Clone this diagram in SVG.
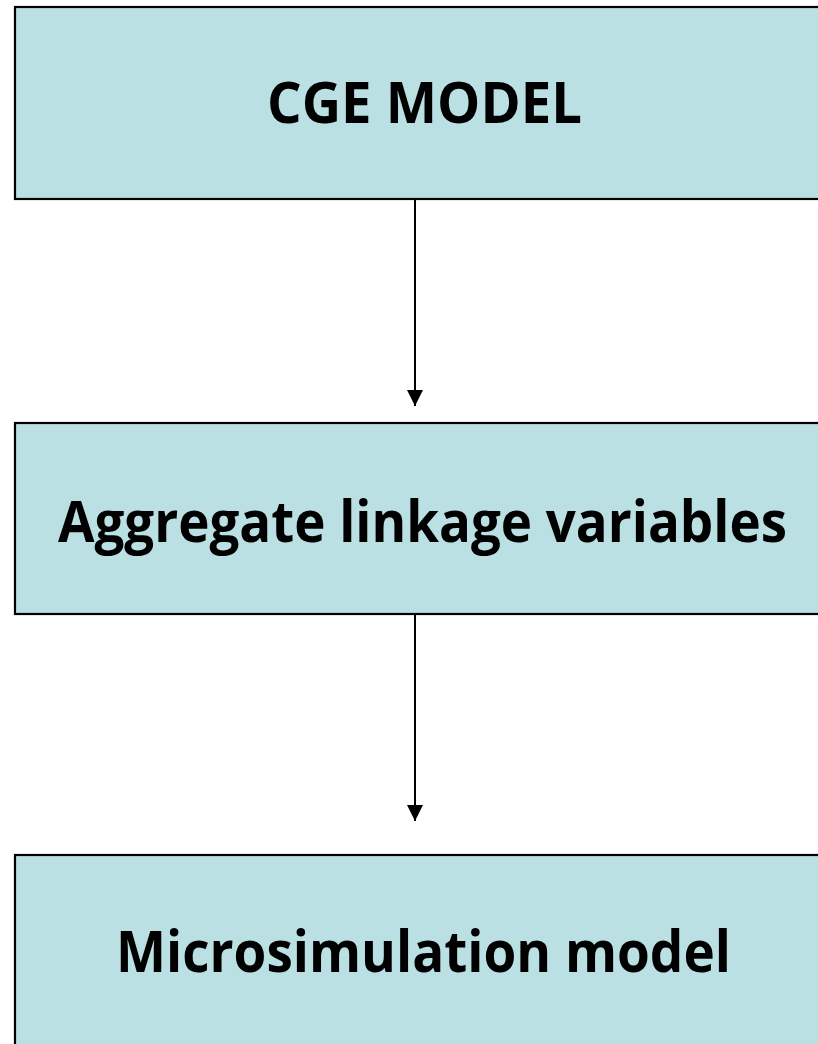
<svg xmlns="http://www.w3.org/2000/svg" width="818" height="1044" viewBox="0 0 818 1044">
  <style>
    .box { fill: #BAE0E3; stroke: #000000; stroke-width: 2.2; }
    .label { font-family: "Open Sans", "Liberation Sans", sans-serif; font-weight: 700; font-size: 57px; fill: #000000; text-anchor: middle; }
    .link { stroke: #000000; stroke-width: 2; fill: none; }
  </style>
  <defs>
    <marker id="arrow" markerUnits="userSpaceOnUse" markerWidth="17" markerHeight="17" refX="16" refY="8" orient="auto">
      <path d="M0,0 L16,8 L0,16 Z" fill="#000000"/>
    </marker>
  </defs>
  <rect width="818" height="1044" fill="#FFFFFF"/>

  <g id="connectors">
    <line class="link" x1="415" y1="200" x2="415" y2="406" marker-end="url(#arrow)"/>
    <line class="link" x1="415" y1="615" x2="415" y2="821" marker-end="url(#arrow)"/>
  </g>

  <g id="cge-model">
    <rect class="box" x="15" y="7" width="830" height="192"/>
    <text class="label" x="424.5" y="123" textLength="315" lengthAdjust="spacingAndGlyphs">CGE MODEL</text>
  </g>

  <g id="aggregate-linkage">
    <rect class="box" x="15" y="423" width="830" height="191"/>
    <text class="label" x="422.5" y="542" textLength="729" lengthAdjust="spacingAndGlyphs">Aggregate linkage variables</text>
  </g>

  <g id="microsimulation">
    <rect class="box" x="15" y="855" width="830" height="220"/>
    <text class="label" x="423.5" y="972" textLength="615" lengthAdjust="spacingAndGlyphs">Microsimulation model</text>
  </g>
</svg>
